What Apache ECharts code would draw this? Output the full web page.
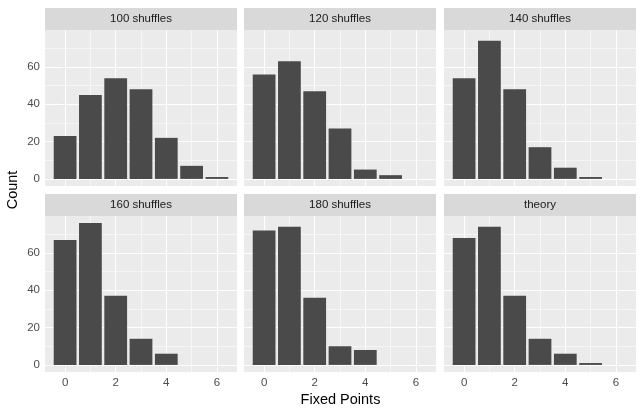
<!DOCTYPE html>
<html>
<head>
<meta charset="utf-8">
<script src="https://cdn.jsdelivr.net/npm/echarts@6/dist/echarts.min.js"></script>
<style>html,body{margin:0;padding:0;background:#fff}#c{width:643px;height:413px}</style>
</head>
<body>
<div id="c"></div>
<script>
// ---- data ----
const fixedPoints = [0, 1, 2, 3, 4, 5, 6];
const panelTitles = ['100 shuffles', '120 shuffles', '140 shuffles', '160 shuffles', '180 shuffles', 'theory'];
const shuffles100 = [23, 45, 54, 48, 22, 7, 1];
const shuffles120 = [56, 63, 47, 27, 5, 2, null];
const shuffles140 = [54, 74, 48, 17, 6, 1, null];
const shuffles160 = [67, 76, 37, 14, 6, null, null];
const shuffles180 = [72, 74, 36, 10, 8, null, null];
const theory = [68, 74, 37, 14, 6, 1, null];
const xTicks = [0, 2, 4, 6];
const yTicks = [0, 20, 40, 60];
const xMinor = [1, 3, 5];
const yMinor = [10, 30, 50, 70];
const panelValues = [shuffles100, shuffles120, shuffles140, shuffles160, shuffles180, theory];

// ---- layout ----
const colLeft = [45, 244, 444];
const panelW = 192;
const rowTop = [30, 216];
const panelH = 156;
const stripH = 22;
const xMin = -0.795, xMax = 6.795;
const yMin = -3.8, yMax = 79.8;
const barW = 0.9 * panelW / (xMax - xMin);
const font = '"Liberation Sans", Arial, Helvetica, sans-serif';

const grids = [], xAxes = [], yAxes = [], series = [], graphics = [];
panelValues.forEach((vals, i) => {
  const r = Math.floor(i / 3), c = i % 3;
  const bottom = r === 1, left = c === 0;
  grids.push({left: colLeft[c], top: rowTop[r], width: panelW, height: panelH,
    show: true, backgroundColor: '#EBEBEB', borderWidth: 0, containLabel: false});
  xAxes.push({type: 'value', gridIndex: i, min: xMin, max: xMax,
    axisLine: {show: false}, splitLine: {show: false},
    axisTick: {show: bottom, length: 3.6, customValues: xTicks, lineStyle: {color: '#333333', width: 1.07}},
    axisLabel: {show: bottom, customValues: xTicks, color: '#4D4D4D', fontSize: 11.5, fontFamily: font, margin: 5}});
  yAxes.push({type: 'value', gridIndex: i, min: yMin, max: yMax,
    axisLine: {show: false}, splitLine: {show: false},
    axisTick: {show: left, length: 3.6, customValues: yTicks, lineStyle: {color: '#333333', width: 1.07}},
    axisLabel: {show: left, customValues: yTicks, color: '#4D4D4D', fontSize: 11.5, fontFamily: font, margin: 5}});
  const ml = [];
  yMinor.forEach(v => ml.push({yAxis: v, lineStyle: {color: '#FFFFFF', width: 0.55, type: 'solid'}}));
  xMinor.forEach(v => ml.push({xAxis: v, lineStyle: {color: '#FFFFFF', width: 0.55, type: 'solid'}}));
  yTicks.forEach(v => ml.push({yAxis: v, lineStyle: {color: '#FFFFFF', width: 1.1, type: 'solid'}}));
  xTicks.forEach(v => ml.push({xAxis: v, lineStyle: {color: '#FFFFFF', width: 1.1, type: 'solid'}}));
  series.push({type: 'line', xAxisIndex: i, yAxisIndex: i, data: [], z: 1, silent: true,
    markLine: {z: 1, silent: true, symbol: ['none', 'none'], label: {show: false}, animation: false, data: ml}});
  series.push({type: 'bar', xAxisIndex: i, yAxisIndex: i, z: 10, barWidth: barW,
    itemStyle: {color: '#4A4A4A'},
    data: fixedPoints.map((x, k) => vals[k] == null ? null : [x, vals[k]])});
  graphics.push({type: 'rect', left: colLeft[c], top: rowTop[r] - stripH, z: 10,
    shape: {width: panelW, height: stripH}, style: {fill: '#D9D9D9'}});
  graphics.push({type: 'text', x: colLeft[c] + panelW / 2, y: rowTop[r] - stripH / 2, z: 11,
    style: {text: panelTitles[i], fill: '#1A1A1A', font: '11.5px ' + font, align: 'center', verticalAlign: 'middle'}});
});
graphics.push({type: 'text', x: (colLeft[0] + colLeft[2] + panelW) / 2, y: 400, z: 11,
  style: {text: 'Fixed Points', fill: '#000000', font: '14.5px ' + font, align: 'center', verticalAlign: 'middle'}});
graphics.push({type: 'text', x: 13, y: (rowTop[0] - stripH + rowTop[1] + panelH) / 2, rotation: Math.PI / 2, z: 11,
  style: {text: 'Count', fill: '#000000', font: '14.5px ' + font, align: 'center', verticalAlign: 'middle'}});

const chart = echarts.init(document.getElementById('c'), null, {renderer: 'canvas'});
chart.setOption({animation: false, grid: grids, xAxis: xAxes, yAxis: yAxes, series: series, graphic: graphics});
</script>
</body>
</html>
